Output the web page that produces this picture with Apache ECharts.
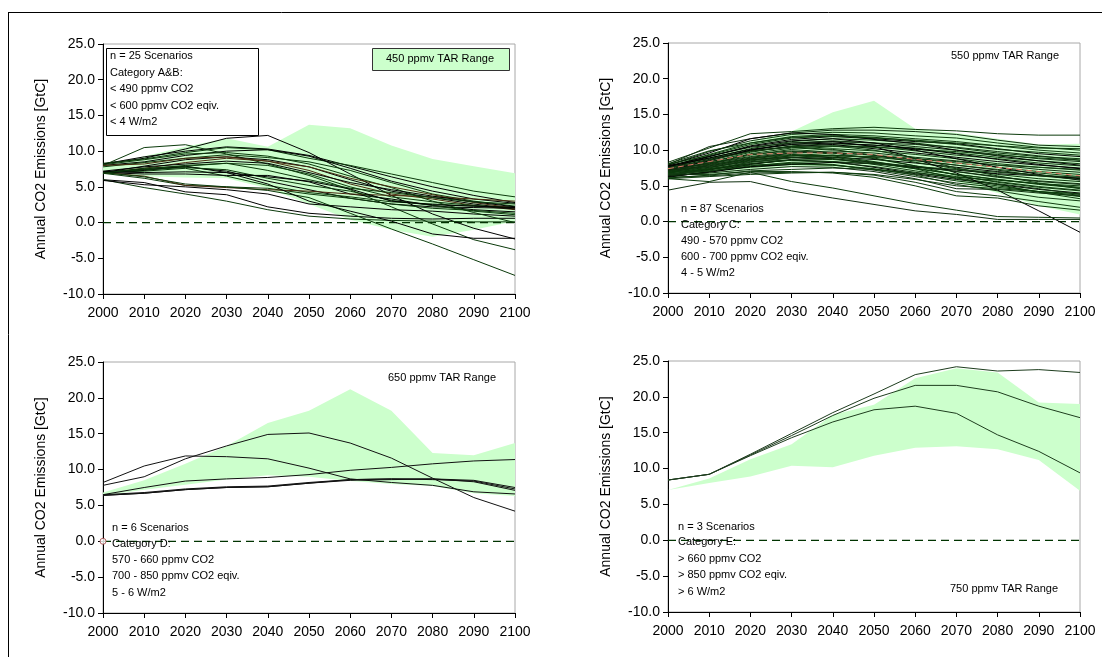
<!DOCTYPE html>
<html>
<head>
<meta charset="utf-8">
<script src="https://cdn.jsdelivr.net/npm/echarts@6/dist/echarts.min.js"></script>
<style>
  html, body { margin: 0; padding: 0; background: #ffffff; }
  #chart { width: 1102px; height: 657px; }
</style>
</head>
<body>
<div id="chart"></div>
<script>
// Decades shared by every panel
const years = [2000, 2010, 2020, 2030, 2040, 2050, 2060, 2070, 2080, 2090, 2100];
const yAxisMin = -10, yAxisMax = 25, yAxisStep = 5;

// ---- Category A&B (450 ppmv TAR range) ----
const tar450Upper = [8.0, 9.3, 10.6, 11.8, 10.6, 13.7, 13.2, 10.8, 8.9, 7.9, 6.9];
const tar450Lower = [6.8, 6.5, 6.3, 6.2, 4.8, 2.6, 0.4, -1.0, -2.0, -1.0, 0.2];
const catABScenarios = [
  [8.2, 9.0, 10.3, 11.8, 12.2, 9.8, 6.8, 3.8, 1.2, -0.8, -2.3],
  [8.0, 10.5, 10.9, 9.6, 8.2, 6.6, 4.6, 2.2, -0.2, -2.4, -3.8],
  [8.2, 9.2, 10.0, 10.6, 10.3, 9.4, 7.9, 6.4, 5.0, 3.8, 2.8],
  [8.3, 8.9, 9.8, 10.5, 10.2, 9.0, 8.0, 6.8, 5.6, 4.4, 3.6],
  [8.0, 8.5, 9.4, 10.0, 10.2, 9.3, 7.6, 5.8, 4.4, 3.3, 2.7],
  [7.8, 8.4, 9.0, 9.5, 9.1, 8.5, 7.3, 5.6, 4.0, 3.0, 2.3],
  [7.0, 7.6, 8.4, 9.0, 8.6, 7.3, 5.4, 4.0, 3.3, 2.4, 1.8],
  [7.0, 7.9, 8.8, 9.2, 8.8, 7.8, 6.0, 4.4, 3.5, 2.6, 1.9],
  [7.0, 7.5, 8.0, 8.3, 8.0, 6.8, 5.0, 3.6, 2.9, 2.4, 2.0],
  [7.1, 7.4, 7.8, 7.2, 5.8, 4.6, 3.4, 2.6, 2.2, 2.1, 2.0],
  [7.0, 7.2, 7.6, 6.5, 5.2, 4.2, 3.6, 2.9, 2.6, 2.3, 2.2],
  [7.0, 6.8, 6.8, 6.6, 6.6, 5.7, 4.0, 3.3, 2.4, 1.8, 1.5],
  [6.9, 6.2, 5.2, 5.0, 4.8, 4.0, 3.4, 2.6, 2.0, 1.7, 1.3],
  [7.0, 6.5, 5.2, 4.9, 4.6, 4.4, 4.0, 3.8, 3.6, 3.3, 3.0],
  [6.0, 5.6, 4.3, 3.9, 2.2, 1.3, 0.9, 0.6, 0.5, 0.6, 0.6],
  [6.0, 4.9, 4.0, 3.0, 1.8, 0.9, 0.5, 0.3, 0.2, 0.1, 0.1],
  [5.9, 5.3, 5.0, 4.6, 4.0, 2.6, 2.2, 1.8, 1.6, 1.2, 0.9],
  [7.0, 6.4, 5.4, 5.0, 4.5, 3.5, 1.3, -0.9, -3.0, -5.2, -7.4],
  [7.0, 7.3, 7.9, 7.0, 5.4, 3.0, 1.6, 0.2, -1.6, -2.2, -2.2],
  [8.1, 8.8, 9.6, 9.8, 9.3, 8.2, 6.5, 4.9, 3.0, 1.4, 0.0],
  [8.0, 8.2, 9.0, 9.2, 8.6, 7.8, 6.2, 5.0, 3.9, 2.8, 2.0],
  [7.2, 7.8, 8.2, 8.6, 8.3, 7.0, 5.6, 4.6, 3.7, 2.9, 2.2],
  [7.0, 7.4, 7.7, 7.4, 6.2, 5.2, 4.4, 3.1, 2.4, 1.6, 1.1],
  [7.1, 7.0, 7.1, 7.0, 6.4, 5.8, 4.7, 3.0, 2.5, 2.3, 2.1],
  [6.9, 7.6, 7.9, 8.3, 7.3, 6.0, 4.8, 4.2, 3.5, 2.9, 2.6]
];

// ---- Category C (550 ppmv TAR range) ----
const tar550Upper = [8.0, 9.5, 11.2, 12.6, 15.3, 16.9, 13.0, 12.4, 11.6, 10.8, 10.9];
const tar550Lower = [6.6, 6.6, 7.2, 7.6, 7.6, 7.4, 6.8, 5.6, 4.0, 2.2, 1.0];
const catCMedian = [7.4, 8.4, 9.4, 9.6, 9.6, 9.4, 8.7, 8.2, 7.6, 7.0, 6.4];
const catCScenarios = [
  [8.3, 10.3, 12.3, 12.6, 13.0, 13.2, 12.9, 12.7, 12.3, 12.1, 12.1],
  [8.0, 10.5, 11.6, 12.4, 12.8, 12.8, 12.6, 12.2, 11.4, 10.7, 10.5],
  [7.9, 9.8, 11.3, 12.2, 12.5, 12.4, 12.0, 11.7, 11.0, 10.4, 10.0],
  [7.6, 9.4, 11.0, 11.9, 12.2, 12.0, 11.6, 11.2, 10.6, 10.0, 9.6],
  [7.4, 9.1, 10.6, 11.5, 11.9, 11.6, 11.2, 10.9, 10.2, 9.5, 9.1],
  [7.8, 8.9, 10.2, 11.2, 11.6, 11.4, 11.0, 10.3, 9.6, 9.1, 8.8],
  [7.2, 8.6, 10.0, 10.8, 11.2, 11.0, 10.5, 10.0, 9.4, 8.8, 8.4],
  [7.0, 8.3, 9.7, 10.6, 10.9, 10.7, 10.3, 9.6, 9.0, 8.5, 8.1],
  [6.8, 8.0, 9.5, 10.3, 10.6, 10.5, 9.9, 9.3, 8.8, 8.2, 7.8],
  [7.5, 8.7, 9.9, 10.5, 10.8, 10.2, 9.6, 9.0, 8.4, 7.9, 7.5],
  [7.3, 8.2, 9.1, 9.8, 10.2, 9.9, 9.4, 8.8, 8.1, 7.6, 7.2],
  [6.9, 7.8, 8.8, 9.6, 9.9, 9.6, 9.0, 8.5, 7.9, 7.3, 6.9],
  [6.6, 7.5, 8.6, 9.2, 9.6, 9.3, 8.8, 8.2, 7.6, 7.0, 6.6],
  [6.4, 7.2, 8.3, 9.0, 9.3, 9.0, 8.5, 7.9, 7.3, 6.8, 6.3],
  [6.2, 7.0, 8.0, 8.7, 9.0, 8.7, 8.2, 7.6, 7.0, 6.5, 6.0],
  [7.7, 8.8, 9.9, 10.4, 10.1, 9.3, 8.3, 7.4, 6.6, 6.0, 5.6],
  [7.5, 8.4, 9.4, 9.9, 9.6, 8.8, 7.8, 7.0, 6.3, 5.6, 5.2],
  [7.1, 7.9, 8.9, 9.4, 9.2, 8.4, 7.5, 6.6, 5.9, 5.3, 4.8],
  [6.8, 7.6, 8.5, 9.0, 8.8, 8.0, 7.1, 6.3, 5.6, 4.9, 4.4],
  [6.5, 7.3, 8.1, 8.6, 8.4, 7.6, 6.7, 5.9, 5.2, 4.5, 4.0],
  [6.3, 7.0, 7.7, 8.2, 8.0, 7.2, 6.3, 5.4, 4.8, 4.2, 3.7],
  [7.0, 7.6, 8.4, 8.6, 8.3, 7.7, 6.9, 6.1, 5.3, 4.6, 3.8],
  [7.4, 8.0, 8.8, 9.3, 9.0, 8.3, 7.4, 6.0, 5.2, 4.1, 3.2],
  [6.7, 7.1, 7.6, 8.0, 7.9, 7.4, 6.5, 5.2, 4.3, 3.4, 2.9],
  [7.2, 8.5, 10.0, 11.0, 11.2, 10.5, 8.8, 6.8, 4.4, 1.5, -1.5],
  [6.0, 5.6, 6.9, 5.6, 4.7, 3.6, 2.5, 1.6, 0.7, 0.6, 0.5],
  [4.4, 5.5, 5.6, 4.3, 3.3, 2.4, 1.5, 1.0, 0.3, 0.3, 0.3],
  [6.6, 6.6, 7.0, 7.0, 6.8, 6.2, 5.0, 3.6, 3.3, 2.2, 1.6],
  [6.2, 6.4, 6.8, 6.9, 6.9, 6.5, 5.5, 4.2, 3.6, 2.8, 2.0],
  [7.9, 9.6, 11.6, 12.4, 12.2, 11.5, 10.9, 10.0, 9.2, 8.5, 7.9],
  [8.1, 9.9, 11.0, 11.8, 12.0, 11.8, 11.3, 10.8, 10.1, 9.7, 9.3],
  [7.6, 9.2, 10.4, 11.0, 11.3, 11.0, 10.8, 10.4, 9.8, 9.2, 8.6],
  [7.0, 8.2, 9.3, 10.1, 10.5, 10.4, 10.1, 9.8, 9.3, 8.9, 8.6],
  [6.5, 7.4, 8.3, 8.9, 9.2, 9.1, 8.8, 8.4, 7.9, 7.6, 7.3],
  [6.3, 6.9, 7.7, 8.0, 8.3, 8.1, 7.6, 7.2, 6.7, 6.4, 6.1],
  [6.1, 6.5, 7.1, 7.3, 7.5, 7.3, 6.8, 6.2, 5.8, 5.3, 5.0],
  [6.4, 6.8, 7.3, 7.7, 7.6, 7.0, 6.0, 4.6, 4.5, 4.0, 3.6],
  [7.1, 7.7, 8.6, 9.2, 9.3, 8.9, 7.8, 6.5, 5.5, 4.8, 4.3],
  [7.5, 8.6, 9.8, 10.5, 10.6, 10.0, 8.9, 7.5, 6.4, 5.4, 4.6],
  [7.8, 9.1, 10.5, 11.3, 11.6, 11.0, 10.0, 8.8, 7.6, 6.6, 5.8],
  [8.0, 9.3, 10.8, 11.7, 12.0, 11.7, 11.4, 11.0, 10.6, 10.3, 10.2],
  [7.3, 8.1, 9.0, 9.6, 9.7, 9.3, 8.6, 7.9, 7.2, 6.4, 5.9],
  [6.9, 7.4, 8.1, 8.6, 8.7, 8.2, 7.4, 6.6, 5.9, 5.2, 4.7],
  [6.6, 7.1, 7.8, 8.3, 8.4, 8.1, 7.7, 7.3, 6.9, 6.5, 6.2],
  [7.7, 8.9, 10.1, 10.8, 11.0, 10.7, 10.2, 9.5, 8.7, 8.0, 7.4],
  [6.8, 7.3, 7.9, 8.1, 7.9, 7.3, 6.6, 5.7, 5.0, 4.2, 3.5],
  [7.2, 7.8, 8.7, 9.0, 8.8, 8.3, 7.7, 7.0, 6.2, 5.7, 5.3],
  [6.0, 6.3, 6.6, 6.8, 6.9, 6.6, 5.9, 5.0, 4.6, 4.2, 3.9]
];

// ---- Category D (650 ppmv TAR range) ----
const tar650Upper = [6.8, 8.5, 10.8, 13.3, 16.5, 18.2, 21.2, 18.2, 12.3, 12.0, 13.7];
const tar650Lower = [6.4, 7.2, 7.9, 8.6, 9.2, 9.0, 8.4, 8.0, 7.7, 6.7, 6.3];
const catDScenarios = [
  [8.2, 10.5, 11.9, 11.8, 11.5, 10.2, 8.7, 8.2, 7.8, 6.9, 6.6],
  [7.8, 9.0, 11.5, 13.3, 14.9, 15.1, 13.7, 11.6, 8.8, 6.1, 4.2],
  [6.5, 7.5, 8.4, 8.7, 8.9, 9.3, 9.9, 10.3, 10.8, 11.2, 11.4],
  [6.4, 6.7, 7.2, 7.5, 7.6, 8.1, 8.6, 8.7, 8.6, 8.4, 7.3],
  [6.4, 6.7, 7.2, 7.5, 7.6, 8.1, 8.5, 8.6, 8.7, 8.3, 7.1],
  [6.5, 6.8, 7.3, 7.6, 7.7, 8.2, 8.6, 8.7, 8.7, 8.5, 7.5]
];

// ---- Category E (750 ppmv TAR range) ----
const tar750Upper = [7.0, 8.6, 11.3, 13.4, 17.5, 18.9, 22.6, 24.0, 23.4, 19.2, 19.0];
const tar750Lower = [7.0, 8.0, 8.9, 10.4, 10.2, 11.8, 12.9, 13.1, 12.7, 11.2, 6.9];
const catEScenarios = [
  [8.4, 9.2, 12.0, 14.9, 17.8, 20.4, 23.1, 24.2, 23.6, 23.8, 23.4],
  [8.4, 9.2, 11.9, 14.6, 17.4, 19.8, 21.6, 21.6, 20.7, 18.7, 17.1],
  [8.4, 9.2, 11.8, 14.3, 16.5, 18.2, 18.7, 17.7, 14.7, 12.4, 9.4]
];

const zeroLine = years.map(() => 0);

// Panel layout: plot rectangles
const grids = [
  { left: 103, top: 44, width: 412, height: 250 },
  { left: 668, top: 43, width: 412, height: 250 },
  { left: 103, top: 362, width: 412, height: 251 },
  { left: 668, top: 361, width: 412, height: 251 }
];

const FONT = 'Liberation Sans, Arial, sans-serif';
const GREEN_FILL = '#ccffcc';
const DARK_GREEN = '#0b3a0b';

function pairs(vals) { return years.map((y, i) => [y, vals[i]]); }

const series = [];

// Shaded TAR range: polygon running along the upper bound and back along the lower bound
function addRange(idx, lower, upper) {
  series.push({
    type: 'custom', xAxisIndex: idx, yAxisIndex: idx, silent: true, z: 1,
    data: years.map((y, i) => [y, lower[i], upper[i]]),
    encode: { x: 0, y: [1, 2] },
    renderItem: function (params, api) {
      if (params.dataIndex !== 0) return null;
      const top = years.map((y, i) => api.coord([y, upper[i]]));
      const bottom = years.map((y, i) => api.coord([y, lower[i]])).reverse();
      return {
        type: 'polygon',
        shape: { points: top.concat(bottom) },
        style: { fill: GREEN_FILL, stroke: null }
      };
    }
  });
}

function addZero(idx) {
  series.push({
    type: 'line', xAxisIndex: idx, yAxisIndex: idx, data: pairs(zeroLine),
    symbol: 'none', silent: true,
    lineStyle: { color: '#003300', width: 1.2, type: [8, 5] }, z: 3
  });
}

function addScenarios(idx, list, colors) {
  list.forEach((vals, k) => {
    series.push({
      type: 'line', xAxisIndex: idx, yAxisIndex: idx, data: pairs(vals),
      symbol: 'none', silent: true,
      lineStyle: { color: colors[k % colors.length], width: 1 }, z: 4
    });
  });
}

addRange(0, tar450Lower, tar450Upper);
addZero(0);
addScenarios(0, catABScenarios, ['#000000', DARK_GREEN, '#000000', DARK_GREEN, '#000000', DARK_GREEN, '#4a2a10']);

addRange(1, tar550Lower, tar550Upper);
addZero(1);
addScenarios(1, catCScenarios, [DARK_GREEN, '#0f2f0f', DARK_GREEN, '#123d12', '#000000']);
series.push({
  type: 'line', xAxisIndex: 1, yAxisIndex: 1, data: pairs(catCMedian),
  symbol: 'none', silent: true,
  lineStyle: { color: '#e07a6a', width: 1, type: [6, 4] }, z: 5
});

addRange(2, tar650Lower, tar650Upper);
addZero(2);
addScenarios(2, catDScenarios, ['#111111']);
series.push({
  type: 'scatter', xAxisIndex: 2, yAxisIndex: 2, data: [[2000, 0]],
  symbol: 'circle', symbolSize: 6, silent: true,
  itemStyle: { color: '#ffffff', borderColor: '#a04040', borderWidth: 1 }, z: 6
});

addRange(3, tar750Lower, tar750Upper);
addZero(3);
addScenarios(3, catEScenarios, ['#1e3d1e']);

const xAxes = grids.map((g, i) => ({
  type: 'value', gridIndex: i, min: 2000, max: 2100, interval: 10,
  axisLine: { show: true, onZero: false, lineStyle: { color: '#000', width: 1 } },
  axisTick: { show: true, length: 5, lineStyle: { color: '#000' } },
  axisLabel: { color: '#000', fontSize: 14, fontFamily: FONT, margin: 12, formatter: v => String(v) },
  splitLine: { show: false }
}));

const yAxes = grids.map((g, i) => ({
  type: 'value', gridIndex: i, min: yAxisMin, max: yAxisMax, interval: yAxisStep,
  name: 'Annual CO2 Emissions [GtC]', nameLocation: 'middle', nameGap: 55,
  nameTextStyle: { color: '#000', fontSize: 14, fontFamily: FONT },
  axisLine: { show: true, onZero: false, lineStyle: { color: '#000', width: 1 } },
  axisTick: { show: true, length: 5, lineStyle: { color: '#000' } },
  axisLabel: { color: '#000', fontSize: 14, fontFamily: FONT, margin: 8, formatter: v => v.toFixed(1) },
  splitLine: { show: false }
}));

function textLines(x, ys, lines, size) {
  return lines.map((t, i) => ({
    type: 'text', left: x, top: ys[i] - size / 2 - 1, silent: true, z: 20,
    style: { text: t, fill: '#000', font: size + 'px ' + FONT }
  }));
}

const TS = 11;
const graphic = [
  { type: 'line', silent: true, z: 30, shape: { x1: 8, y1: 12.5, x2: 1102, y2: 12.5 }, style: { stroke: '#000', lineWidth: 1 } },
  { type: 'line', silent: true, z: 30, shape: { x1: 8.5, y1: 12, x2: 8.5, y2: 657 }, style: { stroke: '#000', lineWidth: 1 } },
  // Category A&B info box
  { type: 'rect', silent: true, z: 15, shape: { x: 106.5, y: 48.5, width: 152, height: 87 }, style: { fill: '#fff', stroke: '#000', lineWidth: 1 } },
  ...textLines(110, [57, 74, 90, 107, 123], ['n = 25 Scenarios', 'Category A&B:', '< 490 ppmv CO2', '< 600 ppmv CO2 eqiv.', '< 4 W/m2'], TS),
  // 450 ppmv legend swatch box
  { type: 'rect', silent: true, z: 15, shape: { x: 372.5, y: 48.5, width: 137, height: 22 }, style: { fill: GREEN_FILL, stroke: '#333', lineWidth: 1 } },
  { type: 'text', silent: true, z: 20, left: 386, top: 53, style: { text: '450 ppmv TAR Range', fill: '#000', font: TS + 'px ' + FONT } },
  // Category C
  { type: 'text', silent: true, z: 20, left: 951, top: 50, style: { text: '550 ppmv TAR Range', fill: '#000', font: TS + 'px ' + FONT } },
  ...textLines(681, [210, 226, 242, 258, 274], ['n = 87 Scenarios', 'Category C:', '490 - 570 ppmv CO2', '600 - 700 ppmv CO2 eqiv.', '4 - 5 W/m2'], TS),
  // Category D
  { type: 'text', silent: true, z: 20, left: 388, top: 372, style: { text: '650 ppmv TAR Range', fill: '#000', font: TS + 'px ' + FONT } },
  ...textLines(112, [529, 545, 561, 577, 594], ['n = 6 Scenarios', 'Category D:', '570 - 660 ppmv CO2', '700 - 850 ppmv CO2 eqiv.', '5 - 6 W/m2'], TS),
  // Category E
  { type: 'text', silent: true, z: 20, left: 950, top: 583, style: { text: '750 ppmv TAR Range', fill: '#000', font: TS + 'px ' + FONT } },
  ...textLines(678, [528, 543, 560, 576, 593], ['n = 3 Scenarios', 'Category E:', '> 660 ppmv CO2', '> 850 ppmv CO2 eqiv.', '> 6 W/m2'], TS)
];

const chart = echarts.init(document.getElementById('chart'), null, { renderer: 'canvas' });
chart.setOption({
  animation: false,
  backgroundColor: '#ffffff',
  grid: grids.map(g => Object.assign({ show: true, borderColor: '#a8a8a8', borderWidth: 1 }, g)),
  xAxis: xAxes,
  yAxis: yAxes,
  series: series,
  graphic: graphic
});
</script>
</body>
</html>
